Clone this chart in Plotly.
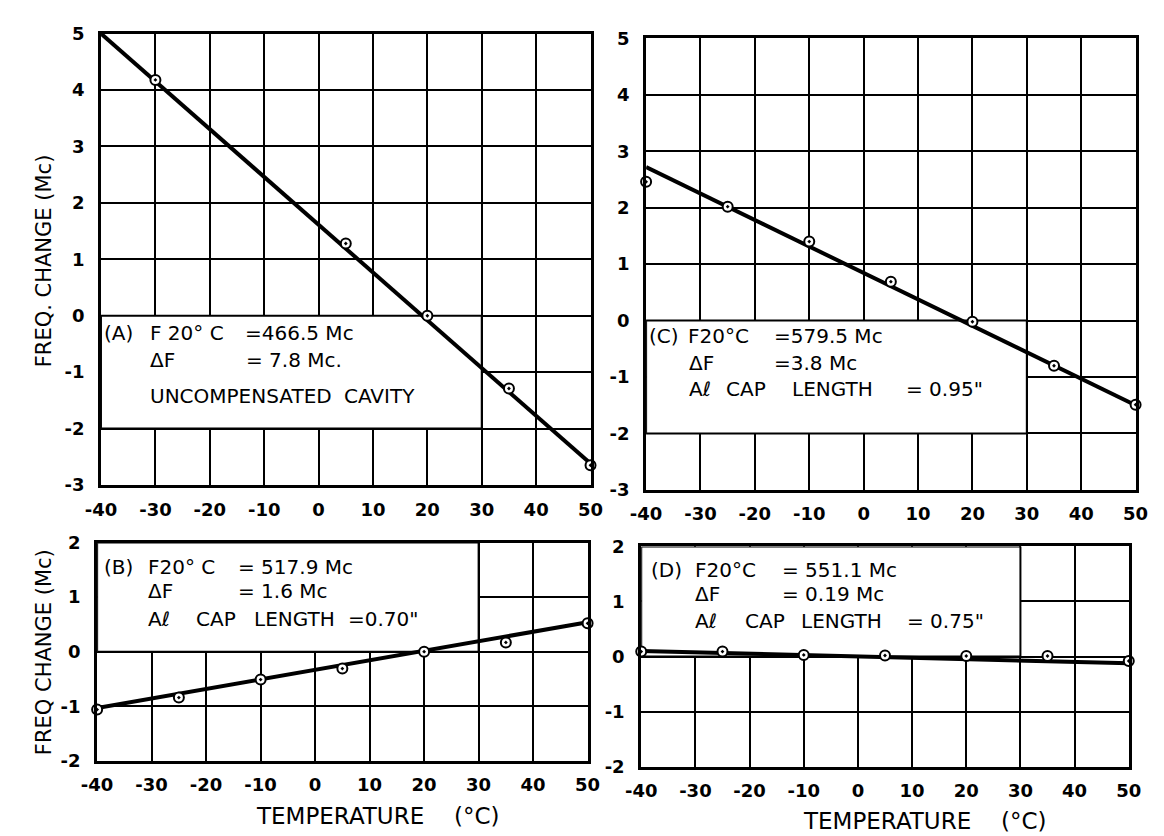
import plotly.graph_objects as go

W, H = 1164, 836

# ---------------- data ----------------
temps_A = [-30, 5, 20, 35, 50]
freq_A = [4.18, 1.28, 0.0, -1.29, -2.65]
fit_x = [-40, 50]
fit_A = [5.0, -2.62]

temps = [-40, -25, -10, 5, 20, 35, 50]
freq_C = [2.46, 2.02, 1.40, 0.69, -0.02, -0.80, -1.49]
fit_C = [2.72, -1.50]

freq_B = [-1.06, -0.84, -0.51, -0.31, 0.0, 0.17, 0.52]
fit_B = [-1.03, 0.54]

freq_D = [0.09, 0.09, 0.03, 0.02, 0.01, 0.01, -0.08]
fit_D = [0.10, -0.12]

x_ticks = [-40, -30, -20, -10, 0, 10, 20, 30, 40, 50]
x_tick_labels = ["-40", "-30", "-20", "-10", "0", "10", "20", "30", "40", "50"]
y_ticks_top = [-3, -2, -1, 0, 1, 2, 3, 4, 5]
y_labels_top = ["-3", "-2", "-1", "0", "1", "2", "3", "4", "5"]
y_ticks_bot = [-2, -1, 0, 1, 2]
y_labels_bot = ["-2", "-1", "0", "1", "2"]

text_A = [["(A)", "F 20° C", "=466.5 Mc"], ["ΔF", "= 7.8 Mc."], ["UNCOMPENSATED", "CAVITY"]]
text_C = [["(C)", "F20°C", "=579.5 Mc"], ["ΔF", "=3.8 Mc"], ["Aℓ", "CAP", "LENGTH", "= 0.95\""]]
text_B = [["(B)", "F20° C", "= 517.9 Mc"], ["ΔF", "= 1.6 Mc"], ["Aℓ", "CAP", "LENGTH", "=0.70\""]]
text_D = [["(D)", "F20°C", "= 551.1 Mc"], ["ΔF", "= 0.19 Mc"], ["Aℓ", "CAP", "LENGTH", "= 0.75\""]]

ytitle_top = "FREQ. CHANGE (Mc)"
ytitle_bot = "FREQ CHANGE (Mc)"
xtitle_word = "TEMPERATURE"
xtitle_unit = "(°C)"

# ---------------- layout helpers ----------------
def fx(px):
    return px / W

def fy(py):
    return 1 - py / H

# panel boxes in pixels: left, right, top, bottom
boxes = {
    "A": (79, 581, 15, 478),
    "C": (638, 1140, 20, 483),
    "B": (75, 578, 537, 761),
    "D": (633, 1133, 541, 767),
}
axis_ids = {"A": ("x", "y", ""), "C": ("x2", "y2", "2"), "B": ("x3", "y3", "3"), "D": ("x4", "y4", "4")}

fig = go.Figure()

series = {
    "A": (temps_A, freq_A, fit_A),
    "C": (temps, freq_C, fit_C),
    "B": (temps, freq_B, fit_B),
    "D": (temps, freq_D, fit_D),
}

for key, (tx, fy_vals, fit) in series.items():
    xa, ya, _ = axis_ids[key]
    fig.add_trace(go.Scatter(x=fit_x, y=fit, mode="lines", xaxis=xa, yaxis=ya,
                             line=dict(color="black", width=4), showlegend=False,
                             hoverinfo="skip", cliponaxis=False))
    fig.add_trace(go.Scatter(x=tx, y=fy_vals, mode="markers", xaxis=xa, yaxis=ya,
                             marker=dict(symbol="circle-dot", size=10, color="white",
                                         line=dict(color="black", width=2)),
                             showlegend=False, cliponaxis=False))

tickfont = dict(family="DejaVu Sans", size=18, color="black", weight="bold")
layout_axes = {}
for key, (l, r, t, b) in boxes.items():
    xa, ya, sfx = axis_ids[key]
    top = key in ("A", "C")
    layout_axes["xaxis" + sfx] = dict(
        domain=[fx(l), fx(r)], range=[-40, 50], anchor=ya,
        tickvals=x_ticks, ticktext=x_tick_labels, tickfont=tickfont,
        showgrid=True, gridcolor="black", gridwidth=2, zeroline=False,
        showline=True, linecolor="black", linewidth=3, mirror=True,
        ticks="", ticklabelstandoff=6, fixedrange=True,
    )
    layout_axes["yaxis" + sfx] = dict(
        domain=[fy(b), fy(t)], range=[-3, 5] if top else [-2, 2], anchor=xa,
        tickvals=y_ticks_top if top else y_ticks_bot,
        ticktext=y_labels_top if top else y_labels_bot, tickfont=tickfont,
        showgrid=True, gridcolor="black", gridwidth=2, zeroline=False,
        showline=True, linecolor="black", linewidth=3, mirror=True,
        ticks="", ticklabelstandoff=10, fixedrange=True,
    )

# white label boxes that hide the grid
shapes = []
box_extent = {"A": (-40, 30, -2, 0), "C": (-40, 30, -2, 0), "B": (-40, 30, 0, 2), "D": (-40, 30, 0, 2)}
for key, (x0, x1, y0, y1) in box_extent.items():
    xa, ya, _ = axis_ids[key]
    shapes.append(dict(type="rect", xref=xa, yref=ya, x0=x0, x1=x1, y0=y0, y1=y1,
                       fillcolor="white", line=dict(color="black", width=2), layer="between"))

# text fragment placement (pixel left edge, pixel center y)
place = {
    "A": [[(81, 322), (128, 322), (226, 322)],
          [(128, 350), (227, 350)],
          [(128, 387), (327, 387)]],
    "C": [[(640, 325), (680, 325), (768, 325)],
          [(681, 353), (768, 353)],
          [(681, 380), (719, 380), (787, 380), (903, 380)]],
    "B": [[(81, 562), (126, 562), (218, 562)],
          [(126, 587), (218, 587)],
          [(126, 615), (175, 615), (235, 615), (331, 615)]],
    "D": [[(642, 565), (687, 565), (776, 565)],
          [(687, 590), (776, 590)],
          [(687, 617), (738, 617), (796, 617), (905, 617)]],
}
texts = {"A": text_A, "C": text_C, "B": text_B, "D": text_D}
annfont = dict(family="DejaVu Sans", size=20, color="black")
annotations = []
for key in texts:
    for line_txt, line_pos in zip(texts[key], place[key]):
        for t, (px, py) in zip(line_txt, line_pos):
            annotations.append(dict(text=t, x=fx(px), y=fy(py), xref="paper", yref="paper",
                                    xanchor="left", yanchor="middle", showarrow=False,
                                    font=annfont, borderpad=0))

titlefont = dict(family="DejaVu Sans", size=21, color="black")
annotations.append(dict(text=ytitle_top, x=fx(20), y=fy(248), xref="paper", yref="paper",
                        textangle=-90, showarrow=False, font=titlefont, xanchor="center", yanchor="middle"))
annotations.append(dict(text=ytitle_bot, x=fx(20), y=fy(650), xref="paper", yref="paper",
                        textangle=-90, showarrow=False, font=titlefont, xanchor="center", yanchor="middle"))
xtfont = dict(family="DejaVu Sans", size=23, color="black")
for (wx, ux, ty) in [(237, 440, 818), (798, 1001, 823)]:
    annotations.append(dict(text=xtitle_word, x=fx(wx), y=fy(ty), xref="paper", yref="paper",
                            xanchor="left", yanchor="middle", showarrow=False, font=xtfont, borderpad=0))
    annotations.append(dict(text=xtitle_unit, x=fx(ux), y=fy(ty), xref="paper", yref="paper",
                            xanchor="left", yanchor="middle", showarrow=False, font=xtfont, borderpad=0))

fig.update_layout(
    width=W, height=H, autosize=False,
    margin=dict(l=0, r=0, t=0, b=0),
    paper_bgcolor="white", plot_bgcolor="white",
    shapes=shapes, annotations=annotations,
    **layout_axes,
)

fig.write_html("out.html")
